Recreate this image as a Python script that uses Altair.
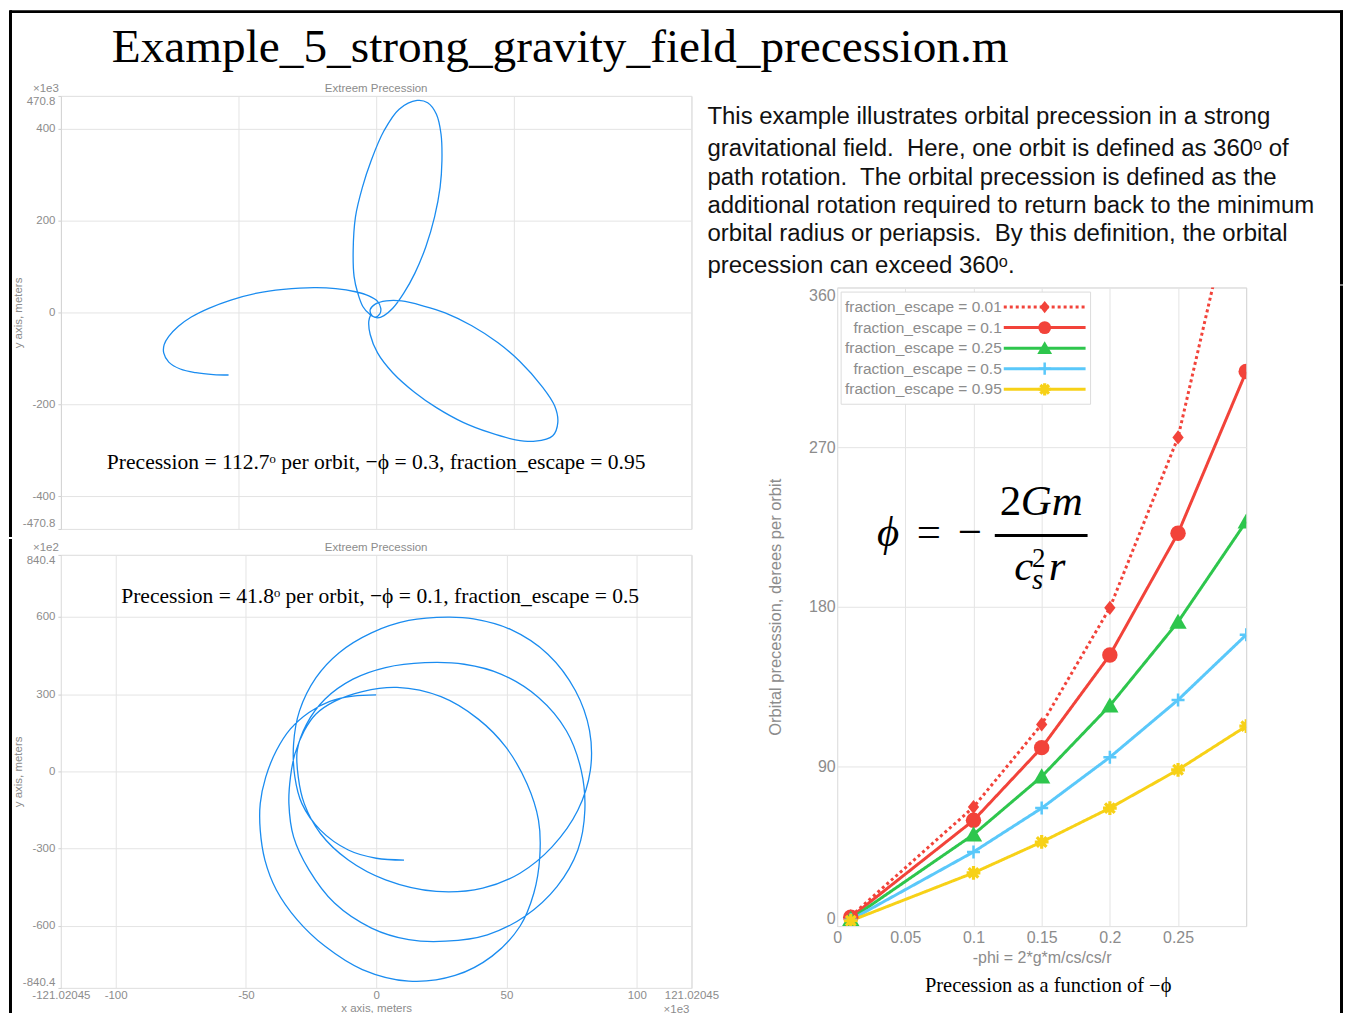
import altair as alt
import pandas as pd

SANS = "Liberation Sans"
SERIF = "Liberation Serif"
GRAY = "#8c8c8c"
GRID = "#e4e4e4"
BOX = "#cfcfcf"
BLUE = "#1a8cf0"
NB = "\u00a0 "  # double space kept visible

TITLE = "Example_5_strong_gravity_field_precession.m"
PARAGRAPH = [
    "This example illustrates orbital precession in a strong",
    "gravitational field." + NB + "Here, one orbit is defined as 360\u1d52 of",
    "path rotation." + NB + "The orbital precession is defined as the",
    "additional rotation required to return back to the minimum",
    "orbital radius or periapsis." + NB + "By this definition, the orbital",
    "precession can exceed 360\u1d52.",
]

# ---------------- top orbit (x, y in units of 1e3 m) ----------------
top_x = [-321, -354, -392, -426, -451, -462, -461, -451, -430, -402,
         -364, -316, -259, -202, -135, -88, -45, -16, 3, 10,
         8, -2, -15, -29, -40, -48, -50, -45, -30, -11,
         17, 50, 89, 112, 131, 141, 143, 139, 127, 108,
         84, 60, 36, 17, 3, -9, -13, -2, 22, 55,
         103, 150, 208, 265, 312, 360, 388, 395, 384, 346,
         303, 246, 189, 131, 84, 36, 3, -13, -16, -11]
top_y = [-136, -135, -131, -123, -108, -88, -70, -52, -30, -10,
         9, 27, 42, 50, 54, 52, 45, 36, 24, 9,
         -3, -10, -3, 13, 42, 78, 135, 208, 272, 330,
         395, 442, 461, 456, 431, 388, 330, 272, 208, 143,
         85, 42, 9, -7, -12, -7, 6, 18, 25, 25,
         14, -1, -29, -66, -106, -160, -203, -239, -268, -280,
         -277, -261, -239, -207, -174, -131, -88, -48, -19, -3]
TOP_XDOM = [-685.6, 685.6]
TOP_YDOM = [-470.8, 470.8]
TOP_XGRID = [-300, 0, 300]
TOP_YTICKS = [-470.8, -400, -200, 0, 200, 400, 470.8]
TOP_NOTE = "Precession = 112.7\u1d52 per orbit, \u2212\u03d5 = 0.3, fraction_escape = 0.95"

# ---------------- bottom orbit (x in 1e3 m, y in 1e2 m) ----------------
bot_x = [0, -8.9, -17.8, -25.8, -32.9, -38.3, -42.4, -44.5, -44.5, -42.7,
         -38.3, -30.3, -19.6, -5.3, 12.5, 30.3, 44.5, 55.2, 60.5, 62.8,
         62.3, 57.9, 49.8, 39.2, 24.9, 8.0, -5.3, -16.0, -23.1, -27.6,
         -31.2, -32.9, -33.5, -31.7, -25.8, -16.0, -1.8, 12.5, 26.7, 42.7,
         57.0, 69.4, 77.4, 80.1, 78.7, 73.0, 62.3, 48.1, 33.8, 18.7,
         3.6, -8.9, -19.6, -26.7, -30.3, -29.9, -27.6, -21.4, -10.7, 3.6,
         23.1, 40.9, 55.2, 67.6, 77.4, 82.2, 81.9, 76.5, 65.9, 51.6,
         37.4, 27.6, 12.5, -1.8, -14.2, -23.1, -29.4, -31.7, -31.2, -28.5,
         -21.4, -10.7, 0, 10.7]
bot_y = [297, 292, 272, 229, 165, 81, -22, -125, -228, -344,
         -460, -576, -679, -769, -814, -792, -717, -601, -473, -331,
         -189, -48, 94, 203, 290, 326, 310, 272, 223, 158,
         68, -22, -125, -254, -382, -511, -608, -653, -659, -634,
         -563, -447, -305, -151, 4, 158, 287, 377, 416, 422,
         403, 358, 281, 184, 81, -22, -125, -241, -344, -421,
         -466, -453, -395, -292, -151, 4, 158, 313, 455, 551,
         592, 599, 586, 538, 461, 364, 236, 107, -22, -125,
         -228, -305, -337, -344]
BOT_XDOM = [-121.02045, 121.02045]
BOT_YDOM = [-840.4, 840.4]
BOT_XTICKS = [-121.02045, -100, -50, 0, 50, 100, 121.02045]
BOT_YTICKS = [-840.4, -600, -300, 0, 300, 600, 840.4]
BOT_NOTE = "Precession = 41.8\u1d52 per orbit, \u2212\u03d5 = 0.1, fraction_escape = 0.5"

# ---------------- precession vs -phi ----------------
phi = [0.01, 0.1, 0.15, 0.2, 0.25, 0.3]
prec_001 = [5.5, 67.1, 113.7, 179.4, 275.5, 442]
prec_010 = [5.0, 59.6, 100.6, 152.8, 221.5, 312.6]
prec_025 = [4.0, 51.6, 84.3, 124.3, 171.5, 228.1]
prec_050 = [3.5, 41.8, 66.5, 95.2, 127.5, 164.2]
prec_095 = [3.0, 30.0, 47.4, 66.5, 88.1, 112.7]
series_values = [prec_001, prec_010, prec_025, prec_050, prec_095]
series_labels = ["fraction_escape = 0.01", "fraction_escape = 0.1",
                 "fraction_escape = 0.25", "fraction_escape = 0.5",
                 "fraction_escape = 0.95"]
series_colors = ["#f2433a", "#f2433a", "#2ec64d", "#5ac8fa", "#f7d117"]
series_dash = [[3, 3], [1, 0], [1, 0], [1, 0], [1, 0]]
series_shape = ["M0,-1L0.8,0L0,1L-0.8,0Z", "circle", "M0,-0.95L1,0.8L-1,0.8Z",
                "M-1,0L1,0M0,-1L0,1",
                "M-1,0L1,0M0,-1L0,1M-0.7,-0.7L0.7,0.7M-0.7,0.7L0.7,-0.7"]
series_filled = [True, True, True, False, False]
series_size = [200, 240, 300, 170, 190]
series_sw = [1, 1, 1, 2.5, 3.2]
legend_size = [150, 165, 220, 150, 150]
PHI_TICKS = [0, 0.05, 0.1, 0.15, 0.2, 0.25]
PREC_TICKS = [0, 90, 180, 270, 360]


# ---------------- helpers ----------------
def one():
    return pd.DataFrame({"a": [0]})


def text_layer(s, x, y, size, font=SANS, color="black", align="center",
               baseline="middle", angle=0, style="normal"):
    kw = dict(align=align, baseline=baseline, fontSize=size, font=font,
              color=color, fontStyle=style)
    if angle:
        kw["angle"] = angle
    return alt.Chart(pd.DataFrame({"t": [s]})).mark_text(**kw).encode(
        x=alt.value(x), y=alt.value(y), text="t:N")


def rect_layer(x1, x2, y1, y2, color="black"):
    return alt.Chart(one()).mark_rect(color=color).encode(
        x=alt.value(x1), x2=alt.value(x2), y=alt.value(y1), y2=alt.value(y2))


def anchor_layer(x1, y1, x2, y2):
    return alt.Chart(one()).mark_rule(opacity=0, strokeWidth=0).encode(
        x=alt.value(x1), x2=alt.value(x2), y=alt.value(y1), y2=alt.value(y2))


def y_axis(values, title, title_x, title_y, size=11.5, tsize=11.5, ticks=True, pad=3):
    return alt.Axis(values=values, labelExpr="datum.value + ''", labelFlush=True,
                    labelOverlap=False, labelFont=SANS, labelFontSize=size,
                    labelColor=GRAY, labelPadding=pad, ticks=ticks, tickSize=3,
                    tickColor=BOX, domain=False, grid=True, gridColor=GRID,
                    title=title, titleFont=SANS, titleFontSize=tsize,
                    titleFontWeight="normal", titleColor=GRAY, titleX=title_x,
                    titleY=title_y, titleAngle=270, titleAlign="center",
                    titleBaseline="middle")


NOSTROKE = alt.ViewBackground(strokeOpacity=0)
BOXED = alt.ViewBackground(stroke=BOX, strokeWidth=1)
W_ORB, H_ORB = 632, 434
RIGHT_EDGE = 507  # page x 1344: total drawing stays 1336 px wide

# ---------------- top orbit panel (origin = page 60, 94) ----------------
top_df = pd.DataFrame({"x": top_x, "y": top_y, "k": list(range(len(top_x)))})
top_curve = alt.Chart(top_df).mark_line(
    color=BLUE, strokeWidth=1.3, interpolate="catmull-rom", clip=True).encode(
    x=alt.X("x:Q", scale=alt.Scale(domain=TOP_XDOM, nice=False, zero=False),
            axis=alt.Axis(values=TOP_XGRID, labels=False, ticks=False, domain=False,
                          title="", grid=True, gridColor=GRID)),
    y=alt.Y("y:Q", scale=alt.Scale(domain=TOP_YDOM, nice=False, zero=False),
            axis=y_axis(TOP_YTICKS, "y axis, meters", -42, H_ORB / 2)),
    order="k:Q")

top_panel = alt.layer(
    anchor_layer(-52, -86, 670, 442),
    rect_layer(-52, -49, -86, 442),
    top_curve,
    text_layer("Extreem Precession", 316, -7, 11.5, color=GRAY),
    text_layer("\u00d71e3", -2, -7, 11.5, color=GRAY, align="right"),
    text_layer(TOP_NOTE, 316, 373.5, 21.6, font=SERIF, baseline="alphabetic"),
).properties(width=W_ORB, height=H_ORB, view=BOXED)

# ---------------- bottom orbit panel (origin = page 60, 552) ----------------
bot_df = pd.DataFrame({"x": bot_x, "y": bot_y, "k": list(range(len(bot_x)))})
bot_curve = alt.Chart(bot_df).mark_line(
    color=BLUE, strokeWidth=1.3, interpolate="catmull-rom", clip=True).encode(
    x=alt.X("x:Q", scale=alt.Scale(domain=BOT_XDOM, nice=False, zero=False),
            axis=alt.Axis(values=BOT_XTICKS, labelExpr="datum.value + ''", labelFlush=False,
                          labelOverlap=False, labelFont=SANS, labelFontSize=11.5,
                          labelColor=GRAY, labelPadding=2, ticks=False, domain=False,
                          grid=True, gridColor=GRID, title="x axis, meters",
                          titleFont=SANS, titleFontSize=11.5, titleFontWeight="normal",
                          titleColor=GRAY, titleY=21, titleBaseline="middle")),
    y=alt.Y("y:Q", scale=alt.Scale(domain=BOT_YDOM, nice=False, zero=False),
            axis=y_axis(BOT_YTICKS, "y axis, meters", -42, H_ORB / 2)),
    order="k:Q")

bot_panel = alt.layer(
    anchor_layer(-52, -16, 670, 461),
    rect_layer(-52, -49, -16, 461),
    bot_curve,
    text_layer("Extreem Precession", 316, -7, 11.5, color=GRAY),
    text_layer("\u00d71e2", -2, -7, 11.5, color=GRAY, align="right"),
    text_layer("\u00d71e3", 617, 456, 11.5, color=GRAY),
    text_layer(BOT_NOTE, 320, 48, 21.6, font=SERIF, baseline="alphabetic"),
).properties(width=W_ORB, height=H_ORB, view=BOXED)

# ---------------- title + paragraph panel (origin = page 837, 94) ----------------
para_y = [28.5, 60.5, 89.5, 117.5, 145.5, 177.5]
text_panel = alt.layer(
    anchor_layer(-829, -86, RIGHT_EDGE, 189),
    rect_layer(-829, RIGHT_EDGE, -86, -83),
    rect_layer(RIGHT_EDGE - 3, RIGHT_EDGE, -86, 189),
    text_layer(TITLE, -727, -34, 47.4, font=SERIF, align="left", baseline="alphabetic"),
    *[text_layer(s, -130, y, 24, align="left", baseline="alphabetic", color="#111111")
      for s, y in zip(PARAGRAPH, para_y)],
).properties(width=410, height=189, view=NOSTROKE)

# ---------------- precession chart panel (origin = page 837, 285) ----------------
W_R, H_R = 410, 640
rows = []
for lab, vals in zip(series_labels, series_values):
    for p, v in zip(phi, vals):
        rows.append({"phi": p, "prec": v, "series": lab})
series_df = pd.DataFrame(rows)

X_R = alt.X("phi:Q", scale=alt.Scale(domain=[0, 0.3], nice=False, zero=False),
            axis=alt.Axis(values=PHI_TICKS, labelExpr="datum.value + ''", labelFlush=False,
                          labelOverlap=False, labelFont=SANS, labelFontSize=16,
                          labelColor=GRAY, labelPadding=3, ticks=False, domain=False,
                          grid=True, gridColor=GRID, title="-phi = 2*g*m/cs/cs/r",
                          titleFont=SANS, titleFontSize=16, titleFontWeight="normal",
                          titleColor=GRAY, titleY=32, titleBaseline="middle"))
Y_R = alt.Y("prec:Q", scale=alt.Scale(domain=[0, 360], nice=False, zero=False),
            axis=y_axis(PREC_TICKS, "Orbital precession, derees per orbit", -62, H_R / 2,
                        size=16, tsize=16.5, ticks=False, pad=2))
COLOR = alt.Color("series:N", scale=alt.Scale(domain=series_labels, range=series_colors), legend=None)
DASH = alt.StrokeDash("series:N", scale=alt.Scale(domain=series_labels, range=series_dash), legend=None)

lines = alt.Chart(series_df).mark_line(strokeWidth=3, clip=True).encode(
    x=X_R, y=Y_R, color=COLOR, strokeDash=DASH, detail="series:N")
point_layers = []
for i, (lab, vals) in enumerate(zip(series_labels, series_values)):
    dfi = pd.DataFrame({"phi": phi, "prec": vals})
    point_layers.append(
        alt.Chart(dfi).mark_point(shape=series_shape[i], size=series_size[i],
                                  filled=series_filled[i], color=series_colors[i],
                                  strokeWidth=series_sw[i], opacity=1, clip=True)
        .encode(x=X_R, y=Y_R))
series_group = alt.layer(lines, *point_layers)

leg_df = pd.DataFrame({"row": list(range(5)), "series": series_labels})
ROW = alt.Y("row:Q", scale=alt.Scale(domain=[0, 4], range=[19.6, 102]), axis=None)
leg_rule = alt.Chart(leg_df).mark_rule(strokeWidth=3).encode(
    x=alt.value(167), x2=alt.value(249), y=ROW, color=COLOR, strokeDash=DASH)
leg_points = []
for i, lab in enumerate(series_labels):
    dfl = pd.DataFrame({"row": [i]})
    leg_points.append(
        alt.Chart(dfl).mark_point(shape=series_shape[i], size=legend_size[i],
                                  filled=series_filled[i], color=series_colors[i],
                                  strokeWidth=series_sw[i], opacity=1)
        .encode(x=alt.value(208), y=ROW))
leg_text = alt.Chart(leg_df).mark_text(align="right", baseline="middle", font=SANS,
                                       fontSize=15.5, color=GRAY).encode(
    x=alt.value(165), y=ROW, text="series:N")
leg_box = alt.Chart(one()).mark_rect(fill="white", stroke="#dcdcdc", strokeWidth=1).encode(
    x=alt.value(4), x2=alt.value(254), y=alt.value(4.6), y2=alt.value(117))
legend_group = alt.layer(leg_rule, *leg_points, leg_text)

formula = [
    text_layer("\u03d5", 51, 259, 43, font=SERIF, style="italic", baseline="alphabetic"),
    text_layer("=", 92, 259, 43, font=SERIF, baseline="alphabetic"),
    text_layer("\u2212", 133, 259, 43, font=SERIF, baseline="alphabetic"),
    text_layer("2", 163, 228, 43, font=SERIF, align="left", baseline="alphabetic"),
    text_layer("Gm", 184, 228, 43, font=SERIF, style="italic", align="left", baseline="alphabetic"),
    rect_layer(158, 251, 247, 250),
    text_layer("c", 187, 293, 43, font=SERIF, style="italic", baseline="alphabetic"),
    text_layer("2", 202, 280, 27, font=SERIF, baseline="alphabetic"),
    text_layer("s", 201, 301.7, 29, font=SERIF, style="italic", baseline="alphabetic"),
    text_layer("r", 220.5, 293, 43, font=SERIF, style="italic", baseline="alphabetic"),
]

chart_panel = alt.layer(
    anchor_layer(-137, -2, RIGHT_EDGE, 728),
    rect_layer(RIGHT_EDGE - 3, RIGHT_EDGE, -2, 728),
    series_group,
    leg_box,
    legend_group,
    *formula,
    text_layer("Precession as a function of \u2212\u03d5", 211.5, 706, 20.5, font=SERIF,
               baseline="alphabetic"),
).resolve_scale(y="independent").properties(width=W_R, height=H_R, view=BOXED)

left_col = alt.vconcat(top_panel, bot_panel, spacing=0)
right_col = alt.vconcat(text_panel, chart_panel, spacing=0)
chart = alt.hconcat(left_col, right_col, spacing=-722).properties(padding=0).configure(
    background="white").configure_view(stroke="transparent")

chart.save("out.html", embed_options={"renderer": "svg", "actions": False})
